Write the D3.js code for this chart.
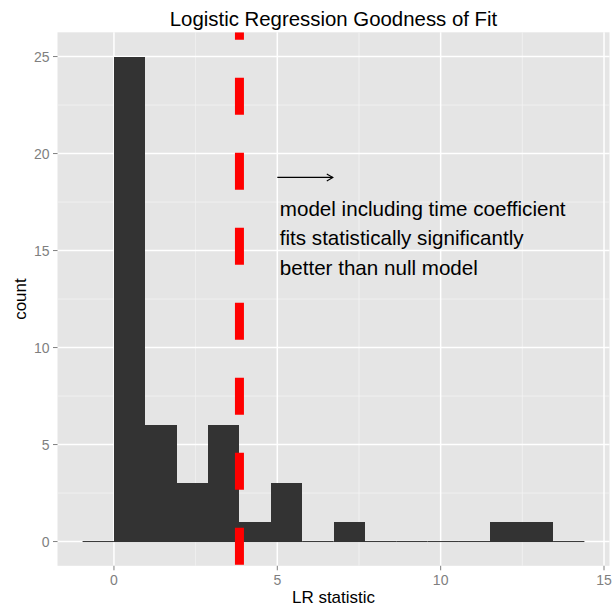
<!DOCTYPE html>
<html>
<head>
<meta charset="utf-8">
<script src="https://cdn.jsdelivr.net/npm/d3@7"></script>
<style>
  html, body { margin: 0; padding: 0; background: #ffffff; }
  svg { display: block; font-family: "Liberation Sans", Arial, Helvetica, sans-serif; }
</style>
</head>
<body>
<svg id="chart" width="613" height="610"></svg>
<script>
// Histogram of likelihood-ratio statistics
const binStart = -0.96;
const binWidth = 0.96;
const counts = [0, 25, 6, 3, 6, 1, 3, 0, 1, 0, 0, 0, 0, 1, 1, 0];

// Chi-square (df = 1) 5% critical value
const criticalValue = 3.841;

const xTicks = [0, 5, 10, 15];
const yTicks = [0, 5, 10, 15, 20, 25];
const xMinor = [2.5, 7.5, 12.5];
const yMinor = [2.5, 7.5, 12.5, 17.5, 22.5];

const titleText = "Logistic Regression Goodness of Fit";
const xLabel = "LR statistic";
const yLabel = "count";

const arrowFrom = [5, 18.77];
const arrowTo = [6.7, 18.77];
const noteX = 5;
const noteLines = [
  { text: "model including time coefficient", y: 16.8 },
  { text: "fits statistically significantly", y: 15.28 },
  { text: "better than null model", y: 13.74 }
];

const width = 613, height = 610;
const margin = { top: 32.3, right: 3.5, bottom: 44.2, left: 57.5 };
const pw = width - margin.left - margin.right;
const ph = height - margin.top - margin.bottom;

const bins = counts.map((c, i) => ({
  x0: binStart + i * binWidth,
  x1: binStart + (i + 1) * binWidth,
  count: c
}));

// ggplot-style 5% expansion of the data range
const xMin = bins[0].x0, xMax = bins[bins.length - 1].x1;
const xPad = (xMax - xMin) * 0.05;
const yMax = d3.max(counts);
const yPad = yMax * 0.05;

const x = d3.scaleLinear().domain([xMin - xPad, xMax + xPad]).range([0, pw]);
const y = d3.scaleLinear().domain([-yPad, yMax + yPad]).range([ph, 0]);

const svg = d3.select("#chart");
const g = svg.append("g").attr("transform", `translate(${margin.left},${margin.top})`);

const defs = svg.append("defs");
defs.append("clipPath").attr("id", "panel-clip")
  .append("rect").attr("width", pw).attr("height", ph);

// Panel background
g.append("rect").attr("width", pw).attr("height", ph).attr("fill", "#e5e5e5");

// Minor grid
g.append("g").selectAll("line").data(xMinor).join("line")
  .attr("x1", d => x(d)).attr("x2", d => x(d)).attr("y1", 0).attr("y2", ph)
  .attr("stroke", "#f2f2f2").attr("stroke-width", 0.8);
g.append("g").selectAll("line").data(yMinor).join("line")
  .attr("y1", d => y(d)).attr("y2", d => y(d)).attr("x1", 0).attr("x2", pw)
  .attr("stroke", "#f2f2f2").attr("stroke-width", 0.8);

// Major grid
g.append("g").selectAll("line").data(xTicks).join("line")
  .attr("x1", d => x(d)).attr("x2", d => x(d)).attr("y1", 0).attr("y2", ph)
  .attr("stroke", "#ffffff").attr("stroke-width", 1.5);
g.append("g").selectAll("line").data(yTicks).join("line")
  .attr("y1", d => y(d)).attr("y2", d => y(d)).attr("x1", 0).attr("x2", pw)
  .attr("stroke", "#ffffff").attr("stroke-width", 1.5);

// Bars
const plot = g.append("g").attr("clip-path", "url(#panel-clip)");
plot.append("g").selectAll("rect").data(bins).join("rect")
  .attr("x", d => x(d.x0))
  .attr("width", d => x(d.x1) - x(d.x0))
  .attr("y", d => y(d.count))
  .attr("height", d => y(0) - y(d.count))
  .attr("fill", "#333333")
  .attr("shape-rendering", "crispEdges");
// Baseline of each bin (shows empty bins)
plot.append("g").selectAll("line").data(bins).join("line")
  .attr("x1", d => x(d.x0)).attr("x2", d => x(d.x1))
  .attr("y1", y(0)).attr("y2", y(0))
  .attr("stroke", "#333333").attr("stroke-width", 1);

// Critical value line (dashed, drawn bottom to top)
plot.append("line")
  .attr("x1", x(criticalValue)).attr("x2", x(criticalValue))
  .attr("y1", ph).attr("y2", 0)
  .attr("stroke", "#ff0000").attr("stroke-width", 9)
  .attr("stroke-dasharray", "37 38")
  .attr("stroke-dashoffset", 74);

// Arrow annotation
const ax1 = x(arrowFrom[0]), ay1 = y(arrowFrom[1]);
const ax2 = x(arrowTo[0]), ay2 = y(arrowTo[1]);
g.append("line").attr("x1", ax1).attr("y1", ay1).attr("x2", ax2).attr("y2", ay2)
  .attr("stroke", "#000").attr("stroke-width", 1.1);
const headLen = 7, headAng = Math.PI / 6;
g.append("path")
  .attr("d", `M${ax2 - headLen * Math.cos(headAng)},${ay2 - headLen * Math.sin(headAng)}L${ax2},${ay2}L${ax2 - headLen * Math.cos(headAng)},${ay2 + headLen * Math.sin(headAng)}`)
  .attr("fill", "none").attr("stroke", "#000").attr("stroke-width", 1.1);

// Text annotation
g.append("g").selectAll("text").data(noteLines).join("text")
  .attr("x", x(noteX) + 2.5)
  .attr("y", d => y(d.y))
  .attr("font-size", "20.6px")
  .attr("fill", "#000")
  .text(d => d.text);

// Axes ticks and labels
const tickColor = "#7f7f7f";
const xAxis = g.append("g").attr("transform", `translate(0,${ph})`);
xAxis.selectAll("line").data(xTicks).join("line")
  .attr("x1", d => x(d)).attr("x2", d => x(d)).attr("y1", 0).attr("y2", 4.5)
  .attr("stroke", tickColor).attr("stroke-width", 1);
xAxis.selectAll("text").data(xTicks).join("text")
  .attr("x", d => x(d)).attr("y", 19)
  .attr("text-anchor", "middle").attr("font-size", "14px").attr("fill", tickColor)
  .text(d => d);

const yAxis = g.append("g");
yAxis.selectAll("line").data(yTicks).join("line")
  .attr("x1", -4.5).attr("x2", 0).attr("y1", d => y(d)).attr("y2", d => y(d))
  .attr("stroke", tickColor).attr("stroke-width", 1);
yAxis.selectAll("text").data(yTicks).join("text")
  .attr("x", -8).attr("y", d => y(d) + 5)
  .attr("text-anchor", "end").attr("font-size", "14px").attr("fill", tickColor)
  .text(d => d);

// Titles
svg.append("text")
  .attr("x", margin.left + pw / 2).attr("y", 26)
  .attr("text-anchor", "middle").attr("font-size", "20.4px").attr("fill", "#000")
  .text(titleText);
svg.append("text")
  .attr("x", margin.left + pw / 2).attr("y", 603.3)
  .attr("text-anchor", "middle").attr("font-size", "17px").attr("fill", "#000")
  .text(xLabel);
svg.append("text")
  .attr("transform", `translate(26,${margin.top + ph / 2}) rotate(-90)`)
  .attr("text-anchor", "middle").attr("font-size", "17px").attr("fill", "#000")
  .text(yLabel);
</script>
</body>
</html>
